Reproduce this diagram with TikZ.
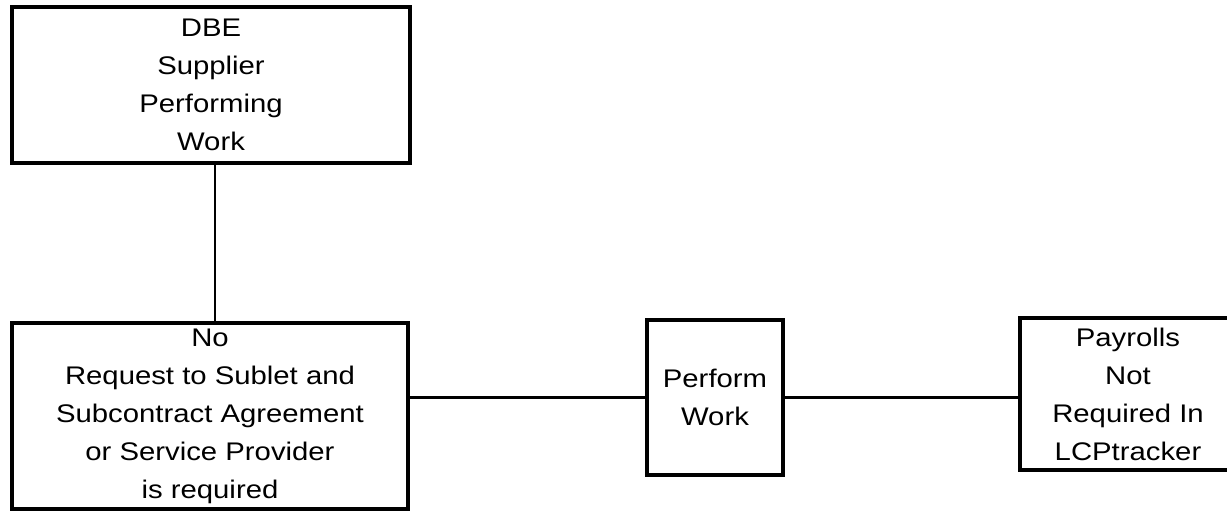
\documentclass[tikz,border=0pt]{standalone}
\usepackage{fontspec}
\setmainfont{Liberation Sans}[FakeStretch=1.15]
\tikzset{
  box/.style={draw, line width=1.9pt, inner sep=0pt, align=center,
    font=\fontsize{14.5}{21.6}\selectfont},
  link/.style={line width=1.2pt}
}
\begin{document}
\begin{tikzpicture}[x=0.02cm, y=-0.02cm]
    \useasboundingbox (0,0) rectangle (1227,518);

    % boxes
    \node[box, minimum width=7.96cm, minimum height=3.12cm] (dbe) at (211,85)
        {DBE\\Supplier\\Performing\\Work};
    \node[box, minimum width=7.92cm, minimum height=3.72cm] (norequest) at (210,416)
        {No\\Request to Sublet and\\Subcontract Agreement\\or Service Provider\\is required};
    \node[box, minimum width=2.72cm, minimum height=3.10cm] (perform) at (715,397.5)
        {Perform\\Work};
    % runs off the right edge
    \node[box, minimum width=4.32cm, minimum height=3.04cm] (payrolls) at (1128,394)
        {Payrolls\\Not\\Required In\\LCPtracker};

    % connectors
    \draw[link] ([xshift=0.08cm]dbe.south) -- ([xshift=0.08cm]dbe.south |- norequest.north);
    \draw[link] (perform.west -| norequest.east) -- (perform.west);
    \draw[link] (perform.east) -- (perform.east -| payrolls.west);
\end{tikzpicture}
\end{document}
